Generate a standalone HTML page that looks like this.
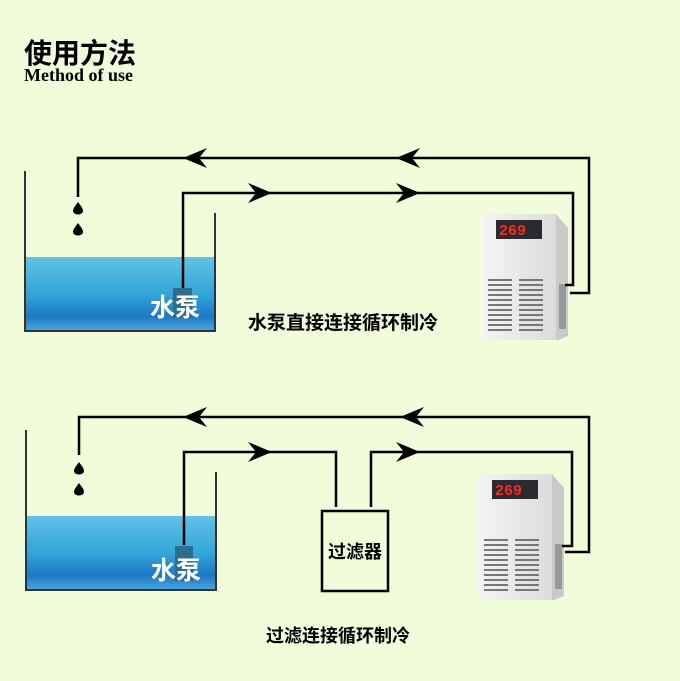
<!DOCTYPE html>
<html><head><meta charset="utf-8"><style>
body{margin:0;background:#f0fcda;}
svg{display:block}
</style></head><body>
<svg width="680" height="681" viewBox="0 0 680 681" xmlns="http://www.w3.org/2000/svg">
<defs>
<linearGradient id="w" x1="0" y1="0" x2="0" y2="1">
<stop offset="0" stop-color="#62c2e6"/><stop offset="0.5" stop-color="#33a6d8"/><stop offset="0.8" stop-color="#1d78c4"/><stop offset="1" stop-color="#4aa6dc"/>
</linearGradient>
<linearGradient id="body" x1="0" y1="0" x2="1" y2="0">
<stop offset="0" stop-color="#f4f4f4"/><stop offset="1" stop-color="#dcdcdc"/>
</linearGradient>
<g id="chiller">
<polygon points="0,0 74,0 86,14 86,122 76,126 0,126" fill="#c9c9c9"/>
<rect x="0" y="0" width="74" height="126" fill="url(#body)"/>
<rect x="14" y="6" width="46" height="19" fill="#2a2a30"/>
<text x="17" y="21" font-family="Liberation Mono, monospace" font-weight="bold" font-size="15" fill="#ff2a1a">269</text>
<g fill="#777">
<rect x="6" y="65" width="24" height="2"/><rect x="6" y="70" width="24" height="2"/><rect x="6" y="75" width="24" height="2"/><rect x="6" y="80" width="24" height="2"/><rect x="6" y="85" width="24" height="2"/><rect x="6" y="90" width="24" height="2"/><rect x="6" y="95" width="24" height="2"/><rect x="6" y="100" width="24" height="2"/><rect x="6" y="105" width="24" height="2"/><rect x="6" y="110" width="24" height="2"/><rect x="6" y="115" width="24" height="2"/>
<rect x="37" y="65" width="24" height="2"/><rect x="37" y="70" width="24" height="2"/><rect x="37" y="75" width="24" height="2"/><rect x="37" y="80" width="24" height="2"/><rect x="37" y="85" width="24" height="2"/><rect x="37" y="90" width="24" height="2"/><rect x="37" y="95" width="24" height="2"/><rect x="37" y="100" width="24" height="2"/><rect x="37" y="105" width="24" height="2"/><rect x="37" y="110" width="24" height="2"/><rect x="37" y="115" width="24" height="2"/>
<rect x="77" y="70" width="7" height="45" fill="#999"/>
</g>
</g>
<path id="al" d="M0,0 L24,-10 L16,0 L24,10 Z" fill="#000"/>
<path id="ar" d="M0,0 L-24,-10 L-16,0 L-24,10 Z" fill="#000"/>
<path id="drop" d="M0,-6 C2,-3 5,0 5,3 A5,3.5 0 0 1 -5,3 C-5,0 -2,-3 0,-6 Z" fill="#000"/>
</defs>
<text x="24" y="63" font-family="Liberation Sans, Noto Sans CJK SC, sans-serif" font-weight="bold" font-size="28">使用方法</text>
<text x="24" y="81" font-family="Liberation Serif, serif" font-weight="bold" font-size="18">Method of use</text>

<!-- top diagram -->
<rect x="26" y="257" width="189" height="74" fill="url(#w)"/>
<path d="M25,171 V331 H215 V213" fill="none" stroke="#333" stroke-width="2"/>
<use href="#chiller" x="482" y="214"/>
<path d="M78,197 V158 H589 V293 H570" fill="none" stroke="#000" stroke-width="2.5"/>
<path d="M183,288 V193 H573 V285 H565" fill="none" stroke="#000" stroke-width="2.5"/>
<use href="#al" x="183" y="158"/><use href="#al" x="396" y="158"/>
<use href="#ar" x="272" y="193"/><use href="#ar" x="420" y="193"/>
<use href="#drop" x="78" y="208"/><use href="#drop" x="78" y="229"/>
<rect x="173" y="288" width="19" height="30" fill="#2d6e8e"/>
<text x="150" y="316" font-family="Liberation Sans, Noto Sans CJK SC, sans-serif" font-weight="bold" font-size="25" fill="#fff">水泵</text>
<text x="248" y="329" font-family="Liberation Sans, Noto Sans CJK SC, sans-serif" font-weight="bold" font-size="19">水泵直接连接循环制冷</text>

<!-- bottom diagram -->
<rect x="27" y="516" width="189" height="74" fill="url(#w)"/>
<path d="M26,430 V590 H216 V472" fill="none" stroke="#333" stroke-width="2"/>
<use href="#chiller" x="478" y="474"/>
<path d="M79,455 V417 H589 V552 H565" fill="none" stroke="#000" stroke-width="2.5"/>
<path d="M184,545 V452 H336 V507" fill="none" stroke="#000" stroke-width="2.5"/>
<path d="M371,507 V452 H572 V546 H562" fill="none" stroke="#000" stroke-width="2.5"/>
<rect x="322" y="511" width="66" height="80" fill="none" stroke="#000" stroke-width="2.5"/>
<text x="328" y="558" font-family="Liberation Sans, Noto Sans CJK SC, sans-serif" font-weight="bold" font-size="18">过滤器</text>
<use href="#al" x="183" y="417"/><use href="#al" x="400" y="417"/>
<use href="#ar" x="272" y="452"/><use href="#ar" x="420" y="452"/>
<use href="#drop" x="79" y="468"/><use href="#drop" x="79" y="489"/>
<rect x="175" y="546" width="18" height="35" fill="#2d6e8e"/>
<text x="151" y="579" font-family="Liberation Sans, Noto Sans CJK SC, sans-serif" font-weight="bold" font-size="25" fill="#fff">水泵</text>
<text x="266" y="642" font-family="Liberation Sans, Noto Sans CJK SC, sans-serif" font-weight="bold" font-size="18">过滤连接循环制冷</text>
</svg>
</body></html>
